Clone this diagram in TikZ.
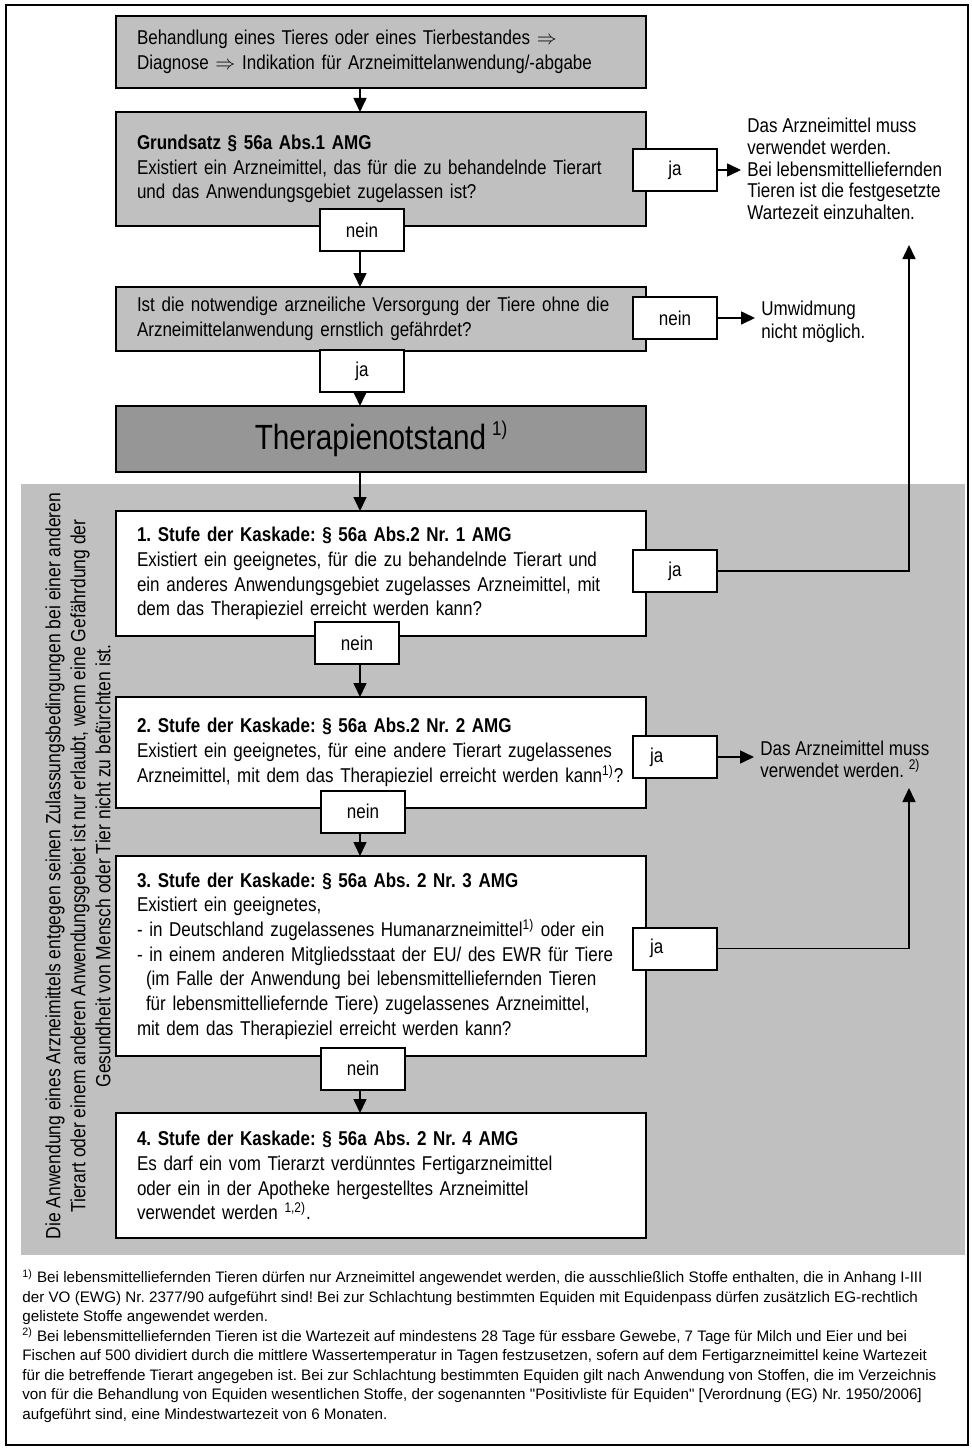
\documentclass[tikz,border=0pt]{standalone}
\usepackage{fontspec}
\setmainfont{Liberation Sans}[FakeStretch=0.85]
\newfontfamily\footfont{Liberation Sans}
\usetikzlibrary{arrows.meta}
\definecolor{lgray}{RGB}{192,192,192}
\definecolor{dgray}{RGB}{150,150,150}
\newcommand\supx[1]{\textsuperscript{#1}}
\newcommand\liftup[1]{\par\vspace*{#1}}
\frenchspacing
\begin{document}
\frenchspacing
\begin{tikzpicture}[x=0.5pt,y=-0.5pt,
  box/.style={draw=black, line width=1pt, outer sep=0pt, anchor=north west,
    text width=244pt, inner xsep=10.5pt, inner ysep=0pt, align=left,
    font=\fontsize{10}{12.35}\selectfont},
  lbl/.style={draw=black, line width=1pt, fill=white, outer sep=0pt,
    minimum width=42pt, minimum height=21pt, inner sep=0pt,
    font=\fontsize{10}{12}\selectfont},
  lblleft/.style={lbl, text width=25pt, align=left, inner xsep=8.5pt},
  note/.style={anchor=west, align=left, inner sep=3pt},
  arr/.style={line width=0.8pt, -{Triangle[length=7pt,width=6.5pt]}},
]
\useasboundingbox (0,0) rectangle (972,1450);
% outer frame and shaded cascade panel
\draw[line width=1pt] (6,5) rectangle (968,1445);
\fill[lgray] (21,484) rectangle (965,1255);
\coordinate (spine) at (360,0);

% main flow boxes
\node[box, fill=lgray, minimum height=36pt] (b1) at (116,16)
  {Behandlung eines Tieres oder eines Tierbestandes $\Rightarrow$\\
   Diagnose $\Rightarrow$ Indikation für Arzneimittelanwendung/-abgabe};
\node[box, fill=lgray, minimum height=57pt] (b2) at (116,112)
  {\textbf{Grundsatz § 56a Abs.1 AMG}\\
   Existiert ein Arzneimittel, das für die zu behandelnde Tierart\\
   und das Anwendungsgebiet zugelassen ist?\liftup{6pt}};
\node[box, fill=lgray, minimum height=32pt] (b3) at (116,287)
  {Ist die notwendige arzneiliche Versorgung der Tiere ohne die\\
   Arzneimittelanwendung ernstlich gefährdet?};
\node[box, fill=dgray, minimum height=33pt, align=center,
      font=\fontsize{17.5}{20}\selectfont] (bT) at (116,406)
  {Therapienotstand\,{\fontsize{10}{10}\selectfont\raisebox{7pt}{1)}}};
\node[box, fill=white, minimum height=62.5pt] (s1) at (116,511)
  {\textbf{1. Stufe der Kaskade: § 56a Abs.2 Nr. 1 AMG}\\
   Existiert ein geeignetes, für die zu behandelnde Tierart und\\
   ein anderes Anwendungsgebiet zugelasses Arzneimittel, mit\\
   dem das Therapieziel erreicht werden kann?};
\node[box, fill=white, minimum height=55.5pt] (s2) at (116,697)
  {\textbf{2. Stufe der Kaskade: § 56a Abs.2 Nr. 2 AMG}\\
   Existiert ein geeignetes, für eine andere Tierart zugelassenes\\
   \mbox{Arzneimittel, mit dem das Therapieziel erreicht werden kann\supx{1)}?}\liftup{7.5pt}};
\node[box, fill=white, minimum height=100pt] (s3) at (116,856)
  {\textbf{3. Stufe der Kaskade: § 56a Abs. 2 Nr. 3 AMG}\\
   Existiert ein geeignetes,\\
   - in Deutschland zugelassenes Humanarzneimittel\supx{1)} oder ein\\
   - in einem anderen Mitgliedsstaat der EU/ des EWR für Tiere\\
   \hspace*{4.5pt}(im Falle der Anwendung bei lebensmittelliefernden Tieren\\
   \hspace*{4.5pt}für lebensmittelliefernde Tiere) zugelassenes Arzneimittel,\\
   mit dem das Therapieziel erreicht werden kann?\liftup{2.5pt}};
\node[box, fill=white, minimum height=62.5pt] (s4) at (116,1113)
  {\textbf{4. Stufe der Kaskade: § 56a Abs. 2 Nr. 4 AMG}\\
   Es darf ein vom Tierarzt verdünntes Fertigarzneimittel\\
   oder ein in der Apotheke hergestelltes Arzneimittel\\
   verwendet werden \supx{1,2)}.};

% outcome texts on the right
\node[note, font=\fontsize{10}{10.8}\selectfont] (rA) at (741,169)
  {Das Arzneimittel muss\\verwendet werden.\\Bei lebensmittelliefernden\\
   Tieren ist die festgesetzte\\Wartezeit einzuhalten.};
\node[note, font=\fontsize{10}{11.5}\selectfont] (rB) at (755,321.5)
  {Umwidmung\\nicht möglich.};
\node[note, font=\fontsize{10}{11}\selectfont] (rC) at (754,759)
  {Das Arzneimittel muss\\verwendet werden. \supx{2)}};
\coordinate (tipA) at (909,245);
\coordinate (tipB) at (909,788);

% decision labels
\node[lbl] (jaA) at (675,170) {ja};
\node[lbl] (neinA) at (362,230) {nein};
\node[lbl] (neinB) at (675,318) {nein};
\node[lbl] (jaB) at (362,371) {ja};
\node[lbl] (jaC) at (675,571) {ja};
\node[lbl] (neinC) at (357,643) {nein};
\node[lblleft] (jaD) at (675,757) {ja};
\node[lbl] (neinD) at (363,811.5) {nein};
\node[lblleft] (jaE) at (675,948.5) {ja};
\node[lbl] (neinE) at (363,1068.5) {nein};

% connectors
\draw[arr] (b1.south -| spine) -- (b2.north -| spine);
\draw[arr] (jaA.east) -- (jaA.east -| rA.west);
\draw[arr] (neinA.south -| spine) -- (b3.north -| spine);
\draw[arr] (neinB.east) -- (neinB.east -| rB.west);
\draw[arr] (jaB.south -| spine) -- (bT.north -| spine);
\draw[arr] (bT.south -| spine) -- (s1.north -| spine);
\draw[arr] (jaC.east) -| (tipA);
\draw[arr] (neinC.south -| spine) -- (s2.north -| spine);
\draw[arr] (jaD.east) -- (jaD.east -| rC.west);
\draw[arr] (neinD.south -| spine) -- (s3.north -| spine);
\draw[arr] (jaE.east) -| (tipB);
\draw[arr] (neinE.south -| spine) -- (s4.north -| spine);

% vertical explanation along the cascade
\node[rotate=90, align=center, font=\fontsize{10.3}{12.5}\selectfont] (side) at (78,866)
  {Die Anwendung eines Arzneimittels entgegen seinen Zulassungsbedingungen bei einer anderen\\
   Tierart oder einem anderen Anwendungsgebiet ist nur erlaubt, wenn eine Gefährdung der\\
   Gesundheit von Mensch oder Tier nicht zu befürchten ist.};

% footnotes
\node[anchor=north west, align=left, inner sep=0pt,
      font=\footfont\fontsize{7.6}{9.75}\selectfont] (foot) at (22,1269)
  {\supx{1)} Bei lebensmittelliefernden Tieren dürfen nur Arzneimittel angewendet werden, die ausschließlich Stoffe enthalten, die in Anhang I-III\\
   der VO (EWG) Nr. 2377/90 aufgeführt sind! Bei zur Schlachtung bestimmten Equiden mit Equidenpass dürfen zusätzlich EG-rechtlich\\
   gelistete Stoffe angewendet werden.\\
   \supx{2)} Bei lebensmittelliefernden Tieren ist die Wartezeit auf mindestens 28 Tage für essbare Gewebe, 7 Tage für Milch und Eier und bei\\
   Fischen auf 500 dividiert durch die mittlere Wassertemperatur in Tagen festzusetzen, sofern auf dem Fertigarzneimittel keine Wartezeit\\
   für die betreffende Tierart angegeben ist. Bei zur Schlachtung bestimmten Equiden gilt nach Anwendung von Stoffen, die im Verzeichnis\\
   von für die Behandlung von Equiden wesentlichen Stoffe, der sogenannten "Positivliste für Equiden" [Verordnung (EG) Nr. 1950/2006]\\
   aufgeführt sind, eine Mindestwartezeit von 6 Monaten.};
\end{tikzpicture}
\end{document}
